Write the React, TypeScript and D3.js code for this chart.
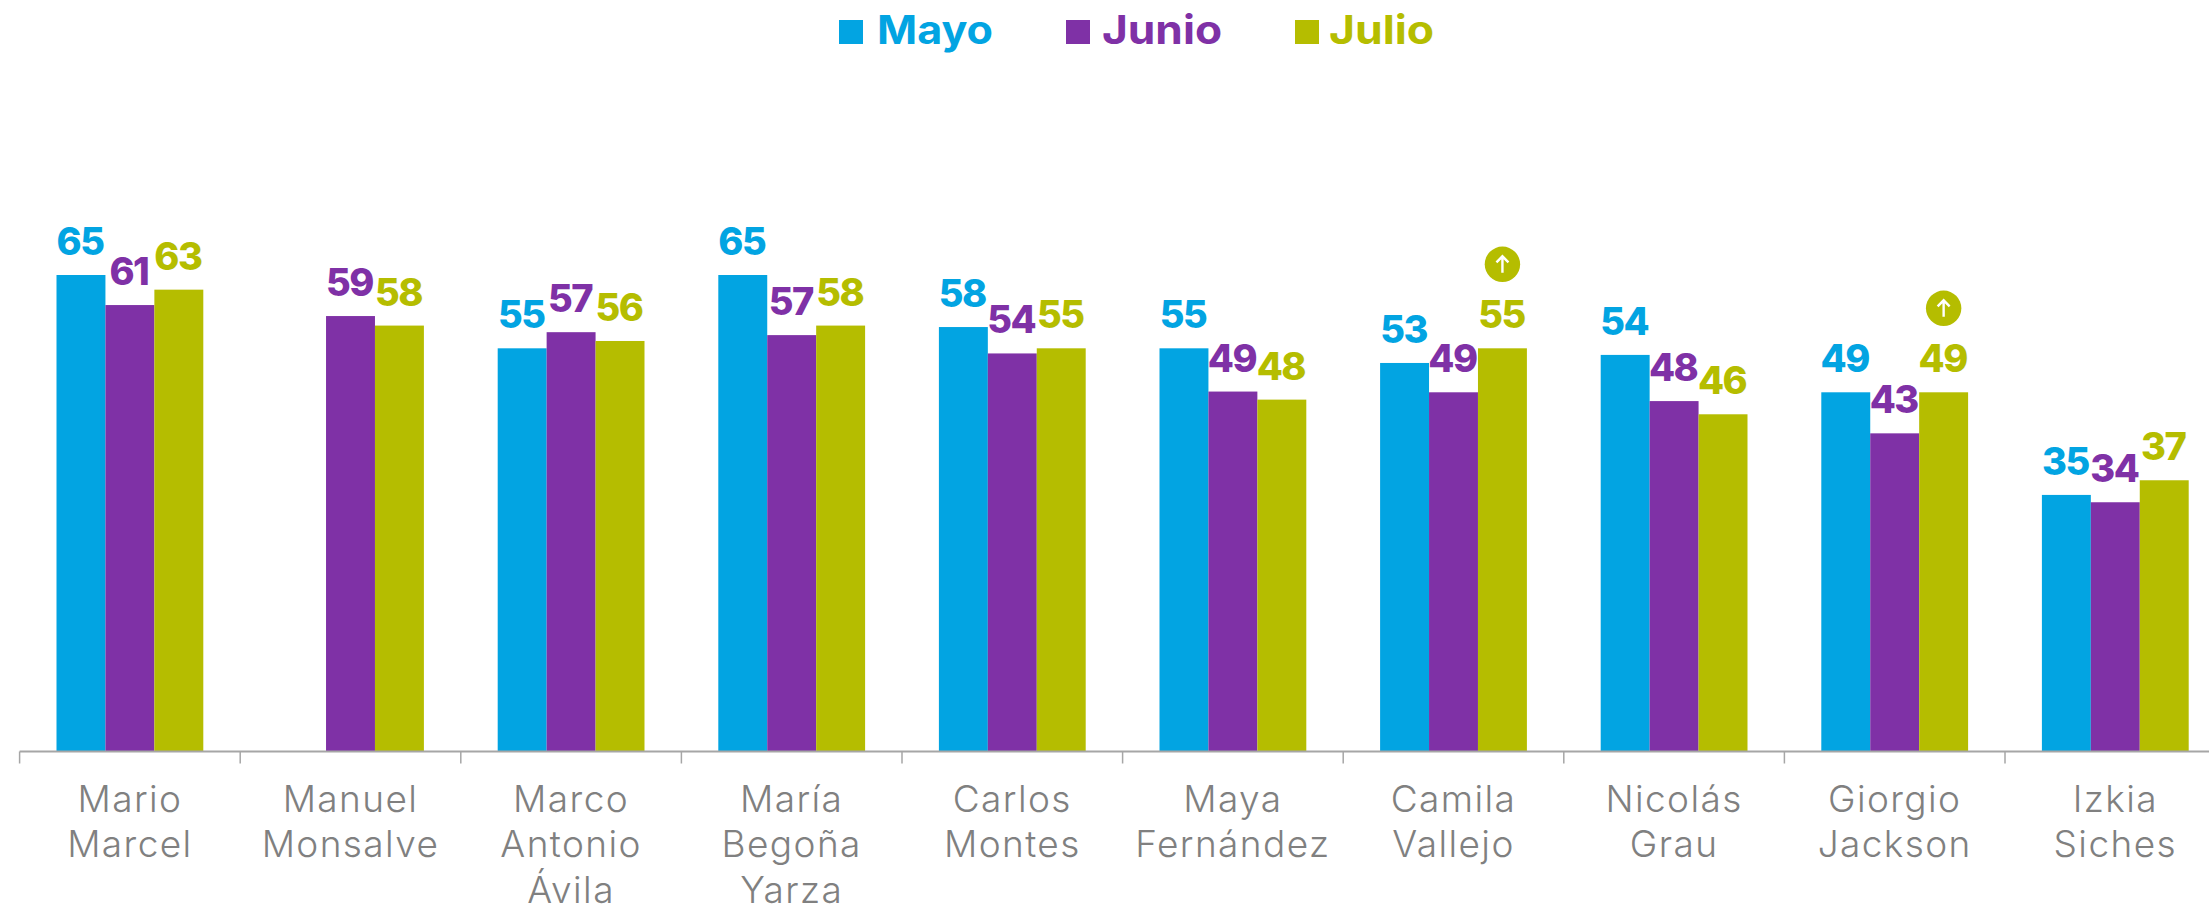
import React from "react";
import * as d3 from "d3";

const categories = [
  ["Mario", "Marcel"],
  ["Manuel", "Monsalve"],
  ["Marco", "Antonio", "Ávila"],
  ["María", "Begoña", "Yarza"],
  ["Carlos", "Montes"],
  ["Maya", "Fernández"],
  ["Camila", "Vallejo"],
  ["Nicolás", "Grau"],
  ["Giorgio", "Jackson"],
  ["Izkia", "Siches"],
];
const mayo: (number | null)[] = [65, null, 55, 65, 57.9, 55, 53, 54.1, 49, 35];
const junio: number[] = [60.9, 59.4, 57.2, 56.8, 54.3, 49.1, 49, 47.8, 43.4, 34];
const julio: number[] = [63, 58.1, 56, 58.1, 55, 48, 55, 46, 49, 37];
const seriesNames = ["Mayo", "Junio", "Julio"];
const seriesColors = ["#02A4E2", "#7F31A6", "#B5BD00"];
const seriesValues = [mayo, junio, julio];
const upBadges = [6, 8];

const legendSquareX = [839, 1066, 1295];
const legendTextX = [877, 1102, 1329];
const legendTextW = [116, 120, 105];

const W = 2209;
const H = 905;
const FONT = "Inter, 'Open Sans', sans-serif";

export default function App() {
  const x0 = d3.scaleBand<number>().domain(d3.range(categories.length)).range([19.6, 19.6 + 2206]);
  const x1 = d3
    .scaleBand<number>()
    .domain([0, 1, 2])
    .range([x0.bandwidth() / 2 - 73.4, x0.bandwidth() / 2 + 73.4]);
  const y = d3.scaleLinear().domain([0, 65]).range([751.5, 275]);
  const label = d3.format(".0f");
  const base = y(0);
  const ticks = d3.range(categories.length + 1).map((i) => 19.6 + i * x0.step());

  return (
    <svg width={W} height={H} style={{ position: "absolute", left: 0, top: 0, display: "block" }} fontFamily={FONT}>
      <rect width={W} height={H} fill="#fff" />
      {seriesNames.map((n, s) => (
        <g key={n}>
          <rect x={legendSquareX[s]} y={20} width={24} height={24} fill={seriesColors[s]} />
          <text
            x={legendTextX[s]}
            y={44}
            fontSize={40}
            fontWeight={700}
            fill={seriesColors[s]}
            textLength={legendTextW[s]}
            lengthAdjust="spacingAndGlyphs"
          >
            {n}
          </text>
        </g>
      ))}
      {seriesValues.map((vals, s) =>
        vals.map((v, i) =>
          v == null ? null : (
            <g key={`${s}-${i}`}>
              <rect
                x={x0(i)! + x1(s)!}
                y={y(v)}
                width={x1.bandwidth()}
                height={base - y(v)}
                fill={seriesColors[s]}
              />
              <text
                x={x0(i)! + x1(s)! + x1.bandwidth() / 2 - 1}
                y={y(v) - 20}
                textAnchor="middle"
                fontSize={38}
                fontWeight={800}
                letterSpacing={-1.5}
                fill={seriesColors[s]}
              >
                {label(v)}
              </text>
            </g>
          )
        )
      )}
      {upBadges.map((i) => {
        const cx = x0(i)! + x1(2)! + x1.bandwidth() / 2;
        const cy = y(julio[i]) - 84;
        return (
          <g key={i}>
            <circle cx={cx} cy={cy} r={17.7} fill={seriesColors[2]} />
            <path
              d={`M${cx},${cy + 8.5}V${cy - 8}M${cx - 6},${cy - 2}L${cx},${cy - 8}L${cx + 6},${cy - 2}`}
              fill="none"
              stroke="#fff"
              strokeWidth={2.4}
            />
          </g>
        );
      })}
      <line x1={19.6} x2={W} y1={base} y2={base} stroke="#A6A6A6" strokeWidth={2} />
      {ticks.map((t) => (
        <line key={t} x1={t} x2={t} y1={base} y2={763.5} stroke="#A6A6A6" strokeWidth={1.5} />
      ))}
      {categories.map((lines, i) => (
        <text key={i} textAnchor="middle" fontSize={37} fontWeight={300} letterSpacing={1.4} fill="#808080">
          {lines.map((l, k) => (
            <tspan key={k} x={x0(i)! + x0.bandwidth() / 2} y={811.5 + k * 45.5}>
              {l}
            </tspan>
          ))}
        </text>
      ))}
    </svg>
  );
}
